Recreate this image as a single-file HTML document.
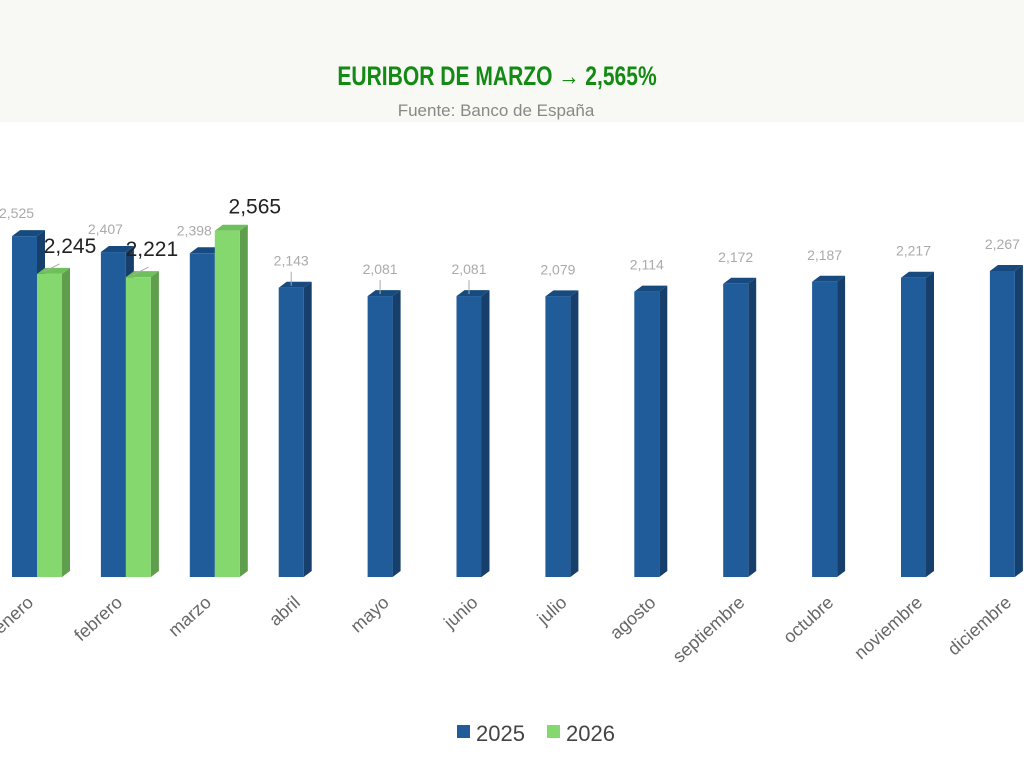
<!DOCTYPE html>
<html><head><meta charset="utf-8"><style>
body{margin:0;width:1024px;height:768px;background:#fff;overflow:hidden;font-family:"Liberation Sans",sans-serif}
</style></head><body>
<svg width="1024" height="768" xmlns="http://www.w3.org/2000/svg">
<rect x="0" y="0" width="1024" height="122" fill="#f8f8f5"/>
<text x="497" y="85" text-anchor="middle" font-family="Liberation Sans Narrow, Liberation Sans, sans-serif" font-weight="bold" font-size="27" fill="#138a13" transform="translate(497 0) scale(0.78 1) translate(-497 0)">EURIBOR DE MARZO → 2,565%</text>
<text x="496" y="116" text-anchor="middle" font-size="17" fill="#888">Fuente: Banco de España</text>
<g id="bars"></g>
<g font-size="22" fill="#444">
<rect x="457" y="725" width="13" height="13" fill="#1f5c99"/><text x="476" y="741">2025</text>
<rect x="547" y="725" width="13" height="13" fill="#84d86e"/><text x="566" y="741">2026</text>
</g>
</svg>
<script>
const blue=[2.525,2.407,2.398,2.143,2.081,2.081,2.079,2.114,2.172,2.187,2.217,2.267];
const green=[2.245,2.221,2.565];
const months=["enero","febrero","marzo","abril","mayo","junio","julio","agosto","septiembre","octubre","noviembre","diciembre"];
const base=577,k=135,w=25,dx=8,dy=6;
let s="";
function bar(x,v,f,side,top){const h=v*k,y=base-h;
s+=`<polygon points="${x+w},${y} ${x+w+dx},${y-dy} ${x+w+dx},${base-dy} ${x+w},${base}" fill="${side}"/>`;
s+=`<polygon points="${x},${y} ${x+dx},${y-dy} ${x+w+dx},${y-dy} ${x+w},${y}" fill="${top}"/>`;
s+=`<rect x="${x}" y="${y}" width="${w}" height="${h}" fill="${f}"/>`;return y;}
const fmt=v=>v.toFixed(3).replace('.',',');
blue.forEach((v,i)=>{const x=12+i*88.9;const y=bar(x,v,"#1f5c99","#163f6b","#174a7e");
const off=i<3?-8:0;
s+=`<text x="${x+w/2+off}" y="${y-(i<3?18:22)}" text-anchor="middle" font-size="14" fill="#aaa">${fmt(v)}</text>`;
if(i>=3&&i<=5)s+=`<line x1="${x+w/2}" y1="${y-16}" x2="${x+w/2}" y2="${y-2}" stroke="#aaa"/>`;
s+=`<text x="${x+w/2+10}" y="${604}" text-anchor="end" font-size="18" fill="#666" transform="rotate(-42 ${x+w/2+10} 604)">${months[i]}</text>`;});
const gdx=[33,26,40];
green.forEach((v,i)=>{const x=37+i*88.9;const y=bar(x,v,"#84d86e","#5e9e4c","#6fbf5a");
const ty=i==2?y-17:y-21;
s+=`<text x="${x+gdx[i]}" y="${ty}" text-anchor="middle" font-size="21" fill="#222">${fmt(v)}</text>`;
if(i<2)s+=`<line x1="${x+w/2-6}" y1="${y-2}" x2="${x+w/2+10}" y2="${y-10}" stroke="#aaa"/>`;});
document.getElementById("bars").innerHTML=s;
</script>
</body></html>
